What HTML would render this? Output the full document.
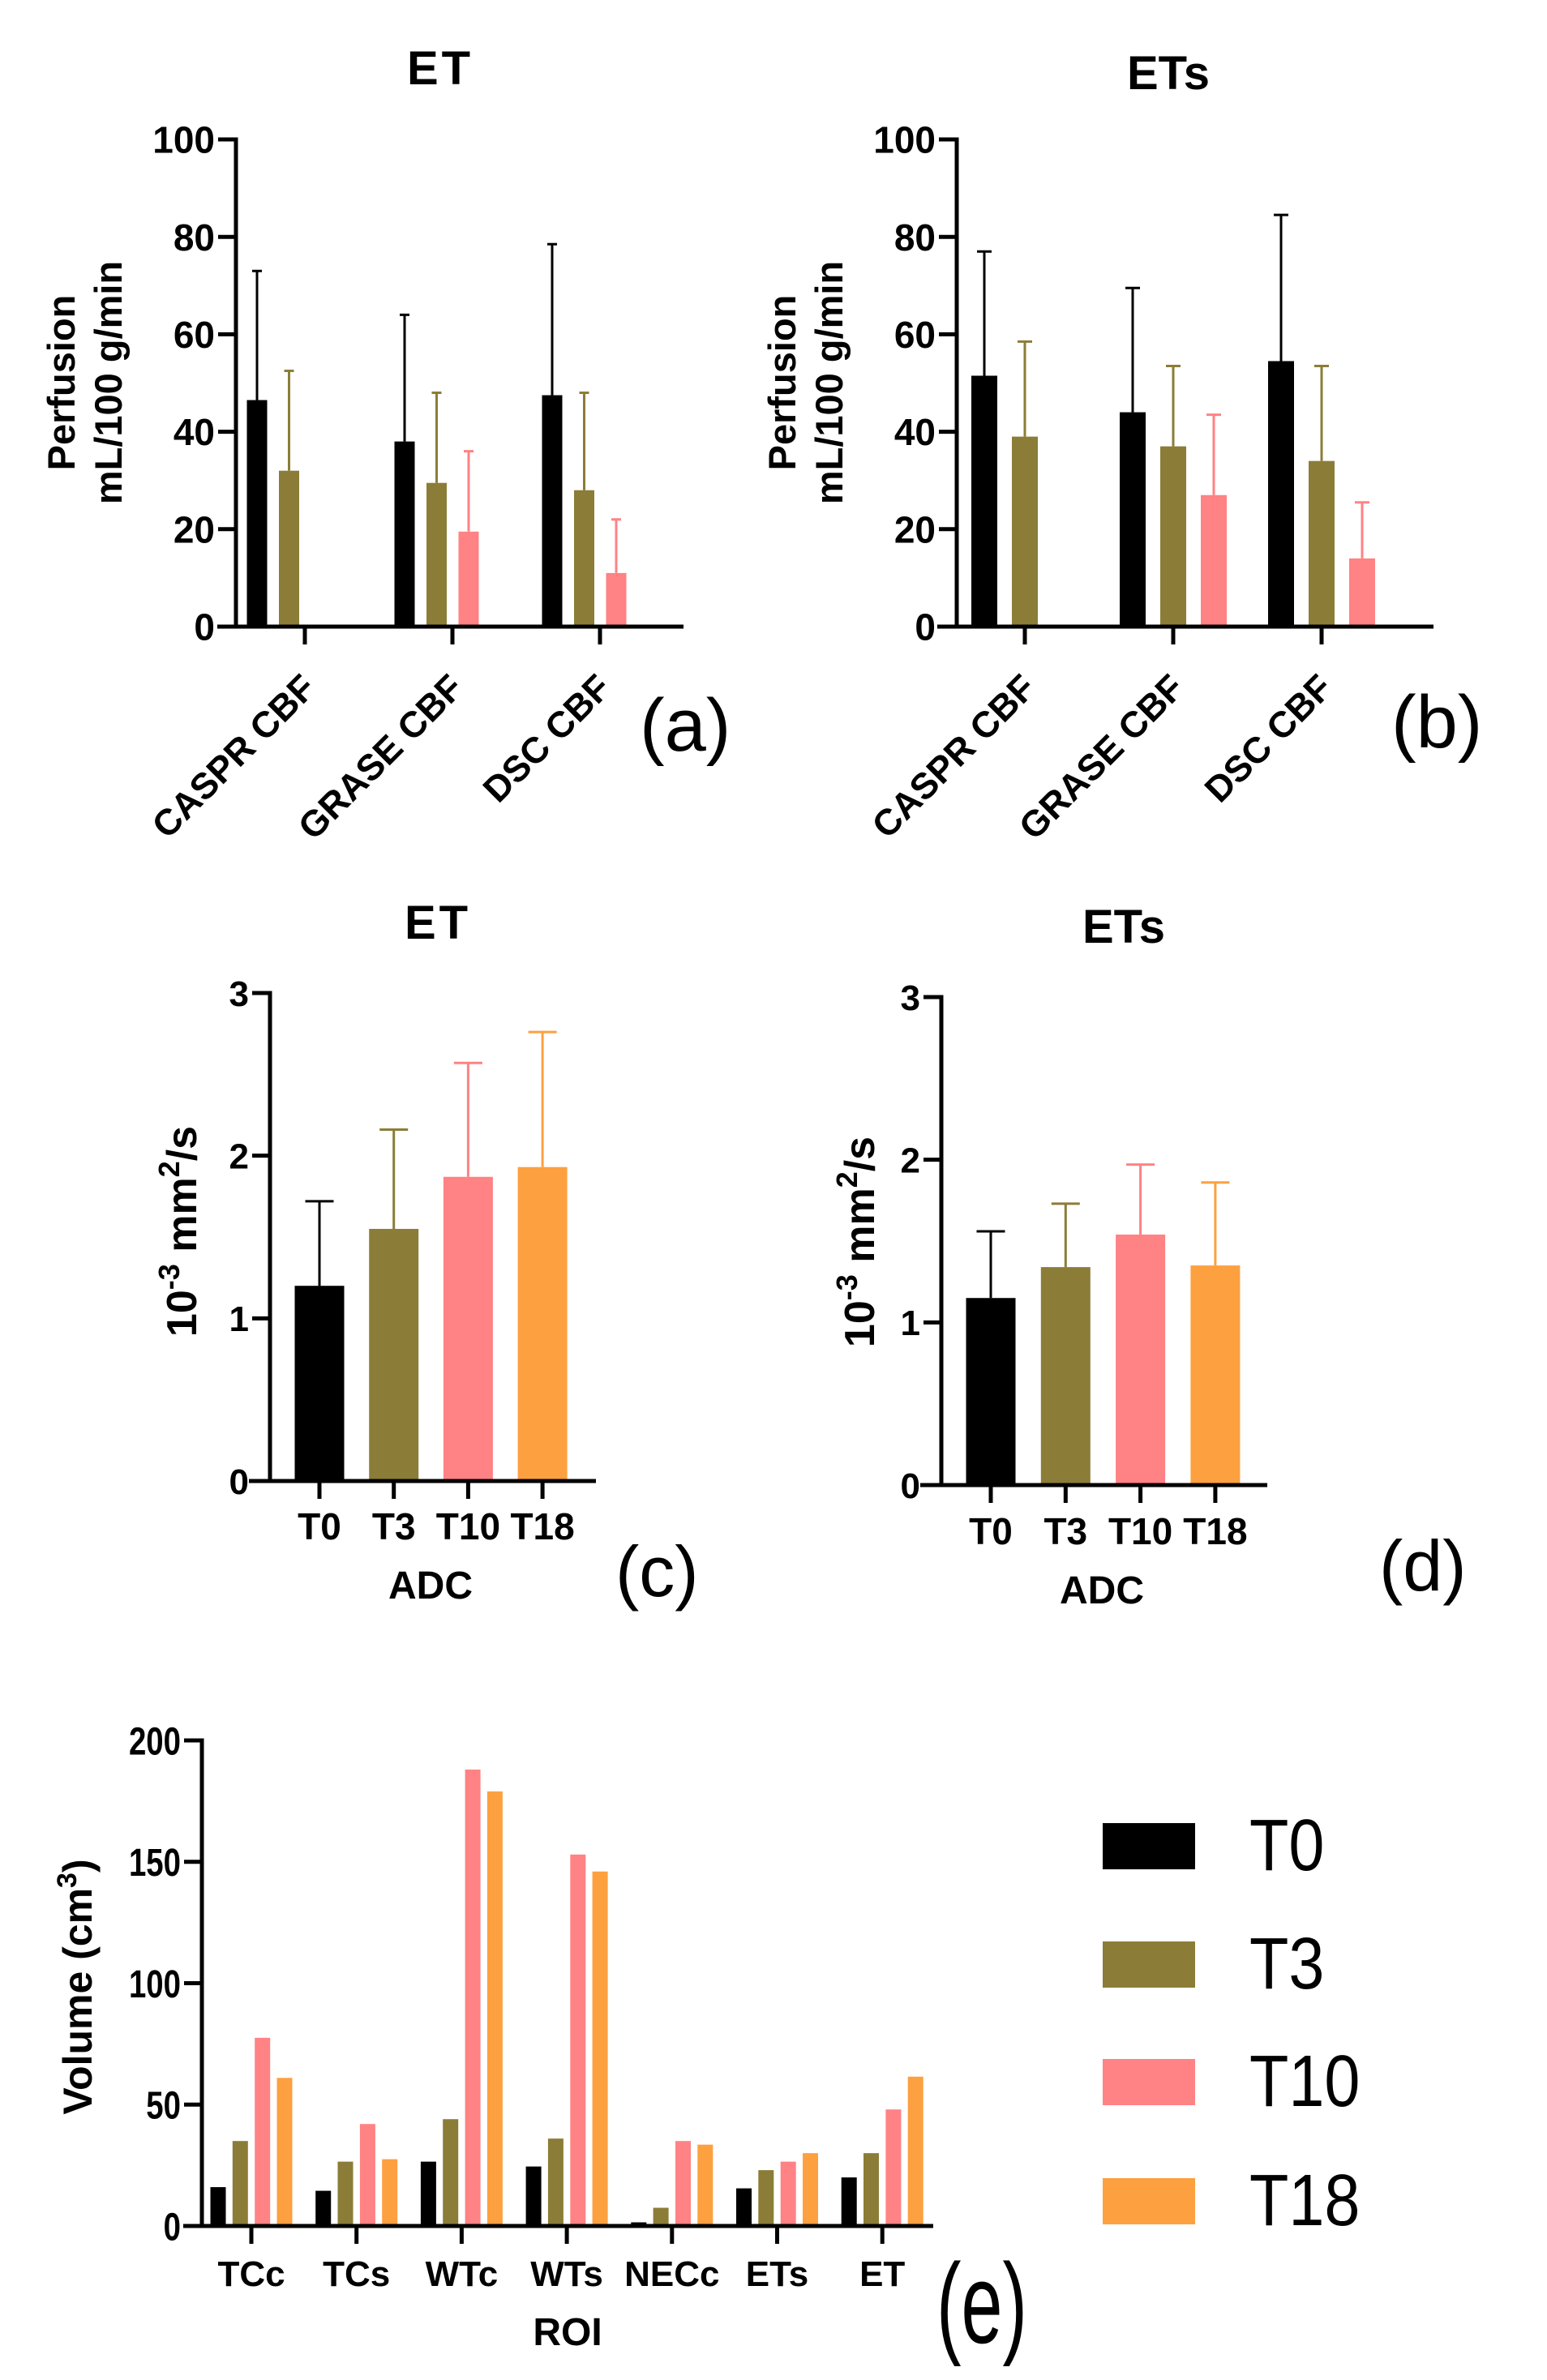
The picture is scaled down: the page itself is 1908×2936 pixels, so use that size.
<!DOCTYPE html>
<html><head><meta charset="utf-8"><style>
html,body{margin:0;padding:0;background:#fff;}
svg{display:block;font-family:"Liberation Sans",Arial,sans-serif;}
</style></head><body>
<svg id="fig" width="1908" height="2936" viewBox="0 0 1908 2936" xmlns="http://www.w3.org/2000/svg">
<rect width="1908" height="2936" fill="#fff"/>
</svg>
<script>
// ---- data ----
const perfCategories = ["CASPR CBF","GRASE CBF","DSC CBF"];
const etT0 = [46.5, 38, 47.5];
const etT0Sd = [26.5, 26, 31];
const etT3 = [32, 29.5, 28];
const etT3Sd = [20.5, 18.5, 20];
const etT10 = [null, 19.5, 11];
const etT10Sd = [null, 16.5, 11];
const etsT0 = [51.5, 44, 54.5];
const etsT0Sd = [25.5, 25.5, 30];
const etsT3 = [39, 37, 34];
const etsT3Sd = [19.5, 16.5, 19.5];
const etsT10 = [null, 27, 14];
const etsT10Sd = [null, 16.5, 11.5];
const perfTicks = [0, 20, 40, 60, 80, 100];
const adcLabels = ["T0","T3","T10","T18"];
const adcET = [1.2, 1.55, 1.87, 1.93];
const adcETSd = [0.52, 0.61, 0.70, 0.83];
const adcETs = [1.15, 1.34, 1.54, 1.35];
const adcETsSd = [0.41, 0.39, 0.43, 0.51];
const adcTicks = [0, 1, 2, 3];
const roiLabels = ["TCc","TCs","WTc","WTs","NECc","ETs","ET"];
const volT0 = [16, 14.5, 26.5, 24.5, 1.5, 15.5, 20];
const volT3 = [35, 26.5, 44, 36, 7.5, 23, 30];
const volT10 = [77.5, 42, 188, 153, 35, 26.5, 48];
const volT18 = [61, 27.5, 179, 146, 33.5, 30, 61.5];
const volTicks = [0, 50, 100, 150, 200];
const legendLabels = ["T0","T3","T10","T18"];

const COLORS = ["#000000", "#8b7d37", "#ff8284", "#fda040"];
const NS = "http://www.w3.org/2000/svg";
const svg = document.getElementById("fig");

function mk(tag, attrs, parent, text) {
  const e = document.createElementNS(NS, tag);
  for (const k in attrs) e.setAttribute(k, attrs[k]);
  if (text !== undefined) e.textContent = text;
  (parent || svg).appendChild(e);
  return e;
}

function chart(cfg) {
  const g = mk("g", {});
  
  
  const yScale = v => cfg.yZero - (v / cfg.max) * (cfg.yZero - cfg.yTop);
  const xScale = i => cfg.firstTick + i * cfg.spacing;
  cfg.series.forEach((s, si) => {
    s.values.forEach((v, i) => {
      if (v === null) return;
      const cx = xScale(i) + cfg.offsets[si];
      const col = cfg.colorByCategory ? COLORS[i] : COLORS[si];
      const top = yScale(v);
      if (s.sd && s.sd[i] !== null) {
        const et = yScale(v + s.sd[i]);
        const l = mk("line", {x1: cx, x2: cx, y1: top, y2: et, stroke: col, "stroke-width": 3}, g);
        
        
        mk("line", {x1: cx - cfg.cap / 2, x2: cx + cfg.cap / 2, y1: et, y2: et, stroke: col, "stroke-width": 3}, g);
      }
      const r = mk("rect", {x: cx - cfg.barW / 2, y: top, width: cfg.barW, height: cfg.yZero - top, fill: col}, g);
      
      
    });
  });
  const ya = mk("line", {x1: cfg.axisX, x2: cfg.axisX, y1: cfg.yTop - 2.5, y2: cfg.yZero, stroke: "#000", "stroke-width": 5}, g);
  
  
  const xa = mk("line", {x1: cfg.xStart, x2: cfg.xEnd, y1: cfg.yZero, y2: cfg.yZero, stroke: "#000", "stroke-width": 5}, g);
  
  
  cfg.ticks.forEach(t => {
    const y = yScale(t);
    mk("line", {x1: cfg.axisX - 22, x2: cfg.axisX, y1: y, y2: y, stroke: "#000", "stroke-width": 5}, g);
    const a = {x: cfg.axisX - 26, y: y + cfg.tickFont * 0.36, "text-anchor": "end", "font-size": cfg.tickFont, "font-weight": "bold"};
    if (cfg.tickScaleX) { a.x = 0; a.y = 0; a.transform = `translate(${cfg.axisX - 26},${y + cfg.tickFont * 0.36}) scale(${cfg.tickScaleX},1)`; }
    const tl = mk("text", a, g, String(t));
    
    
  });
  cfg.categories.forEach((c, i) => {
    const x = xScale(i);
    mk("line", {x1: x, x2: x, y1: cfg.yZero, y2: cfg.yZero + 22, stroke: "#000", "stroke-width": 5}, g);
    let t;
    if (cfg.rotate) {
      t = mk("text", {transform: `translate(${x + 16},${cfg.yZero + 78}) rotate(-45)`, "text-anchor": "end", "font-size": 45, "font-weight": "bold"}, g, c);
    } else {
      t = mk("text", {x: x, y: cfg.labelY, "text-anchor": "middle", "font-size": cfg.catFont, "font-weight": "bold"}, g, c);
    }
    
    
  });
}

function txt(x, y, s, size, weight, name, extra) {
  const a = Object.assign({x: x, y: y, "font-size": size, "font-weight": weight}, extra || {});
  const t = mk("text", a, svg, s);
  
  
  return t;
}

// Panel a
chart({name: "chart-a", axisX: 291, yZero: 773, yTop: 172, max: 100, ticks: perfTicks, xStart: 268, xEnd: 843,
  firstTick: 376, spacing: 182, offsets: [-59, -19.5, 20], barW: 25, cap: 12, tickFont: 46, rotate: true,
  categories: perfCategories,
  series: [{values: etT0, sd: etT0Sd}, {values: etT3, sd: etT3Sd}, {values: etT10, sd: etT10Sd}]});
// Panel b
chart({name: "chart-b", axisX: 1180, yZero: 773, yTop: 172, max: 100, ticks: perfTicks, xStart: 1156, xEnd: 1768,
  firstTick: 1264, spacing: 183, offsets: [-50, 0, 50], barW: 32, cap: 18, tickFont: 46, rotate: true,
  categories: perfCategories,
  series: [{values: etsT0, sd: etsT0Sd}, {values: etsT3, sd: etsT3Sd}, {values: etsT10, sd: etsT10Sd}]});
// Panel c
chart({name: "chart-c", axisX: 333, yZero: 1827, yTop: 1225, max: 3, ticks: adcTicks, xStart: 307, xEnd: 735,
  firstTick: 394, spacing: 91.7, offsets: [0], barW: 61, cap: 35, tickFont: 44, colorByCategory: true,
  categories: adcLabels, labelY: 1899, catFont: 46,
  series: [{values: adcET, sd: adcETSd}]});
// Panel d
chart({name: "chart-d", axisX: 1161, yZero: 1832, yTop: 1230, max: 3, ticks: adcTicks, xStart: 1135, xEnd: 1563,
  firstTick: 1222, spacing: 92.3, offsets: [0], barW: 61, cap: 35, tickFont: 44, colorByCategory: true,
  categories: adcLabels, labelY: 1905, catFont: 46,
  series: [{values: adcETs, sd: adcETsSd}]});
// Panel e
chart({name: "chart-e", axisX: 249, yZero: 2746, yTop: 2147, max: 200, ticks: volTicks, xStart: 226, xEnd: 1151,
  firstTick: 310, spacing: 129.7, offsets: [-41, -13.7, 13.7, 41], barW: 19, cap: 0, tickFont: 48, tickScaleX: 0.8,
  categories: roiLabels, labelY: 2820, catFont: 44,
  series: [{values: volT0}, {values: volT3}, {values: volT10}, {values: volT18}]});

// Titles
txt(543, 104, "ET", 58, "bold", "title-a", {"text-anchor": "middle", "letter-spacing": 4});
txt(1441, 110, "ETs", 58, "bold", "title-b", {"text-anchor": "middle"});
txt(540, 1158, "ET", 58, "bold", "title-c", {"text-anchor": "middle", "letter-spacing": 4});
txt(1386, 1163, "ETs", 58, "bold", "title-d", {"text-anchor": "middle"});

// Y-axis titles
txt(0, 0, "Perfusion", 47, "bold", "y-axis-title-a", {"text-anchor": "middle", transform: "translate(92,472) rotate(-90)"});
txt(0, 0, "mL/100 g/min", 47, "bold", "y-axis-title-a-units", {"text-anchor": "middle", transform: "translate(150,472) rotate(-90)"});
txt(0, 0, "Perfusion", 47, "bold", "y-axis-title-b", {"text-anchor": "middle", transform: "translate(981,472) rotate(-90)"});
txt(0, 0, "mL/100 g/min", 47, "bold", "y-axis-title-b-units", {"text-anchor": "middle", transform: "translate(1039,472) rotate(-90)"});

function adcTitle(x, y, name) {
  const t = txt(0, 0, "", 52, "bold", name, {"text-anchor": "middle", transform: `translate(${x},${y}) rotate(-90)`});
  mk("tspan", {}, t, "10");
  mk("tspan", {"font-size": 36, dy: -21}, t, "-3");
  mk("tspan", {dy: 21}, t, " mm");
  mk("tspan", {"font-size": 36, dy: -21}, t, "2");
  mk("tspan", {dy: 21}, t, "/s");
}
adcTitle(242, 1519, "y-axis-title-c");
adcTitle(1078, 1532, "y-axis-title-d");
txt(531, 1972, "ADC", 48, "bold", "x-axis-title-c", {"text-anchor": "middle"});
txt(1359, 1978, "ADC", 48, "bold", "x-axis-title-d", {"text-anchor": "middle"});

(function () {
  const t = txt(0, 0, "", 50, "bold", "y-axis-title-e", {"text-anchor": "middle", transform: "translate(113,2451) rotate(-90)"});
  mk("tspan", {}, t, "Volume (cm");
  mk("tspan", {"font-size": 34, dy: -19}, t, "3");
  mk("tspan", {dy: 19}, t, ")");
})();
txt(700, 2893, "ROI", 48, "bold", "x-axis-title-e", {"text-anchor": "middle"});

// Panel labels
txt(789, 926, "(a)", 92, "normal", "panel-label-a");
txt(1716, 922, "(b)", 92, "normal", "panel-label-b");
txt(759, 1969, "(c)", 88, "normal", "panel-label-c");
txt(1701, 1962, "(d)", 88, "normal", "panel-label-d");
txt(1155, 2890, "(e)", 140, "normal", "panel-label-e", {textLength: 112, lengthAdjust: "spacingAndGlyphs"});

// Legend
const legendY = [2249, 2395, 2540, 2687];
legendLabels.forEach((l, i) => {
  const r = mk("rect", {x: 1360, y: legendY[i], width: 114, height: 57, fill: COLORS[i]});
  
  
  const t = mk("text", {x: 0, y: 0, "font-size": 90, transform: `translate(1541,${legendY[i] + 58}) scale(0.88,1)`}, svg, l);
  
  
});
</script>
</body></html>
